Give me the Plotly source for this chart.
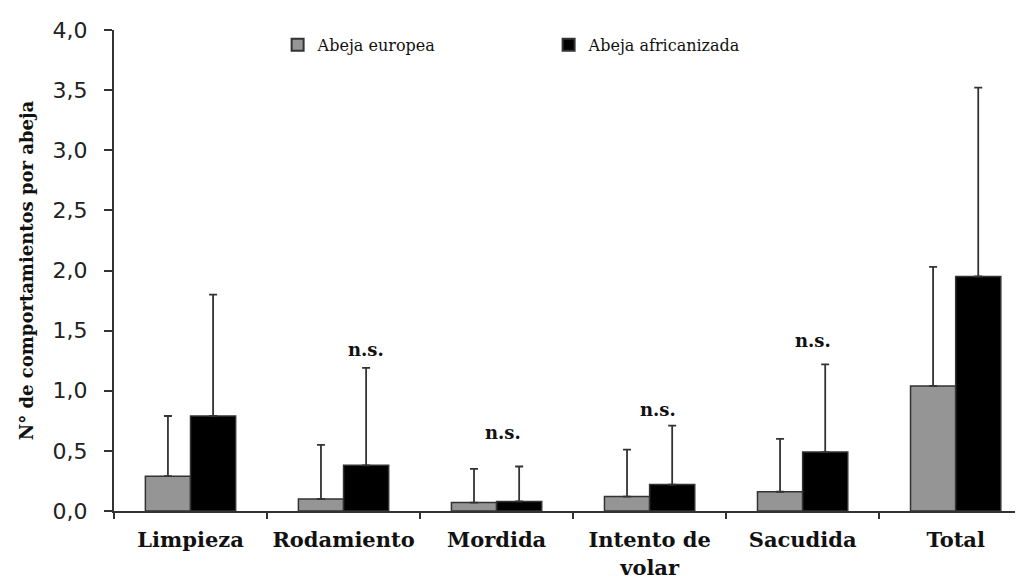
import plotly.graph_objects as go

categories = ["Limpieza", "Rodamiento", "Mordida", "Intento de<br>volar", "Sacudida", "Total"]
europea = [0.29, 0.10, 0.07, 0.12, 0.16, 1.04]
europea_sd = [0.50, 0.45, 0.28, 0.39, 0.44, 0.99]
africanizada = [0.79, 0.38, 0.08, 0.22, 0.49, 1.95]
africanizada_sd = [1.01, 0.81, 0.29, 0.49, 0.73, 1.57]
ns_categories = ["Rodamiento", "Mordida", "Intento de<br>volar", "Sacudida"]
ns_y = [1.34, 0.65, 0.84, 1.42]
ns_shift = [0, -16, -14, -12]
y_ticks = [0, 0.5, 1.0, 1.5, 2.0, 2.5, 3.0, 3.5, 4.0]
y_ticktext = ["0,0", "0,5", "1,0", "1,5", "2,0", "2,5", "3,0", "3,5", "4,0"]

serif = "DejaVu Serif, serif"
sans = "DejaVu Sans, sans-serif"

fig = go.Figure()
fig.add_trace(go.Bar(
    x=categories, y=europea, name="Abeja europea",
    marker=dict(color="#959595", line=dict(color="#333333", width=1.5)),
    error_y=dict(type="data", array=europea_sd, arrayminus=[0]*len(europea_sd),
                 symmetric=False, color="#333333", thickness=1.8, width=4),
))
fig.add_trace(go.Bar(
    x=categories, y=africanizada, name="Abeja africanizada",
    marker=dict(color="#000000", line=dict(color="#333333", width=1.5)),
    error_y=dict(type="data", array=africanizada_sd, arrayminus=[0]*len(africanizada_sd),
                 symmetric=False, color="#333333", thickness=1.8, width=4),
))

for c, yv, sh in zip(ns_categories, ns_y, ns_shift):
    fig.add_annotation(x=c, y=yv, text="<b>n.s.</b>", showarrow=False,
                       xshift=22 + sh, font=dict(family=serif, size=18, color="#111111"))

fig.update_layout(
    width=1015, height=573,
    paper_bgcolor="white", plot_bgcolor="white",
    margin=dict(l=106, r=0, t=22, b=70),
    barmode="group", bargap=0.41, bargroupgap=0,
    showlegend=True,
    legend=dict(orientation="h", x=0.18, y=0.969, xanchor="left", yanchor="middle",
                font=dict(family=serif, size=16, color="#111111"),
                entrywidth=226, itemsizing="constant", bgcolor="rgba(0,0,0,0)"),
    xaxis=dict(
        range=[-0.5, 5.44], showline=True, linecolor="#333333", linewidth=2,
        ticks="outside", tickson="boundaries", ticklen=6, tickcolor="#333333", tickwidth=2,
        tickfont=dict(family=serif, size=21, color="#111111"),
        ticklabelstandoff=9, showgrid=False, zeroline=False, automargin=False,
        tickprefix="<b>", ticksuffix="</b>",
    ),
    yaxis=dict(
        range=[0, 4.0], showline=True, linecolor="#333333", linewidth=2,
        ticks="outside", ticklen=8, tickcolor="#333333", tickwidth=2,
        tickvals=y_ticks, ticktext=y_ticktext, automargin=False,
        tickfont=dict(family=sans, size=22, color="#222222"), ticklabelstandoff=12,
        showgrid=False, zeroline=False,
        title=dict(text="<b>N° de comportamientos por abeja</b>",
                   font=dict(family=serif, size=18, color="#111111"), standoff=14),
    ),
)

fig.write_html("out.html")
